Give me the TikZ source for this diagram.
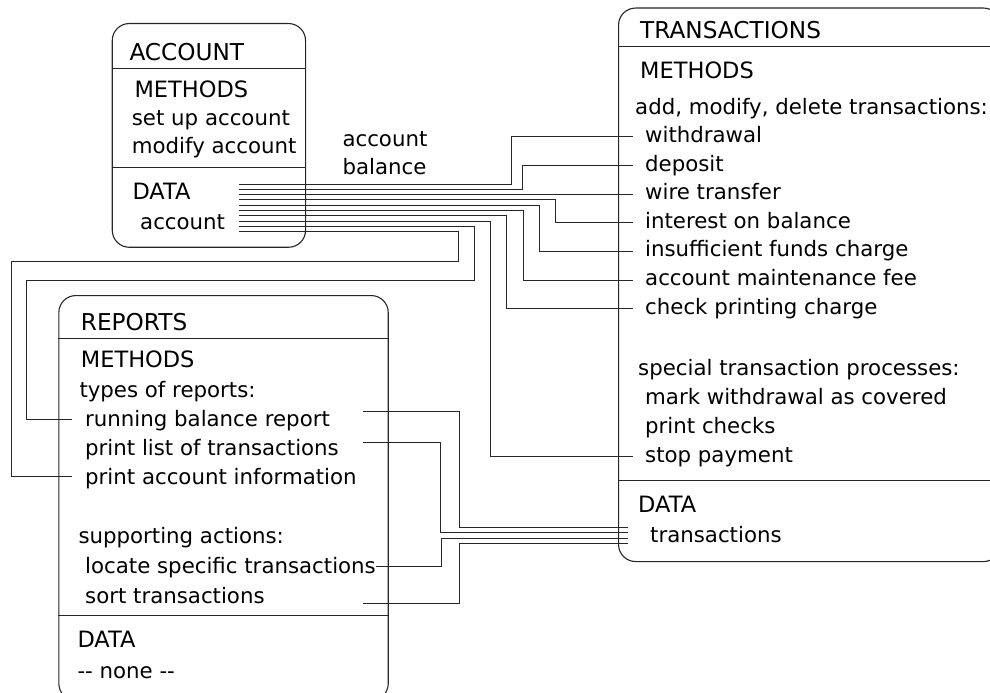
\documentclass[tikz,border=0pt]{standalone}
\usepackage{fontspec}
\setmainfont{DejaVu Sans}
\begin{document}
\begin{tikzpicture}[x=1pt,y=-1pt,
  classbox/.style={draw=black!85, line width=1.1pt, rounded corners=17pt,
    anchor=north west, inner sep=0pt},
  rule/.style={draw=black!85, line width=1pt},
  wire/.style={draw=black!85, line width=0.9pt},
  title/.style={anchor=base west, inner sep=0pt, font=\fontsize{23.2}{27}\selectfont},
  part/.style={anchor=base west, inner sep=0pt, font=\fontsize{22.5}{26}\selectfont},
  item/.style={anchor=base west, inner sep=0pt, font=\fontsize{21.3}{25}\selectfont}]
\useasboundingbox (0,0) rectangle (990,693);
\clip (0,0) rectangle (990,693);

% ---------- class boxes ----------
\node[classbox, minimum width=193.3pt, minimum height=223.7pt] (acct) at (111.7,23) {};
\node[classbox, minimum width=382pt, minimum height=553.5pt] (trans) at (618,7.5) {};
\node[classbox, minimum width=329.4pt, minimum height=405pt] (rep) at (58.3,295) {};

% compartment rules
\draw[rule] (111.7,68.3) -- (305,68.3);
\draw[rule] (111.7,167.3) -- (305,167.3);
\draw[rule] (618,46.7) -- (1000,46.7);
\draw[rule] (618,480) -- (1000,480);
\draw[rule] (58.3,338) -- (387.7,338);
\draw[rule] (58.3,615) -- (387.7,615);

% ---------- ACCOUNT ----------
\node[title] (accT)  at (129.3,60.7) {ACCOUNT};
\node[part]  (accM)  at (134.3,97.7) {METHODS};
\node[item]  (accM1) at (131.7,125) {set up account};
\node[item]  (accM2) at (131.7,153) {modify account};
\node[part]  (accD)  at (132.3,199.3) {DATA};
\node[item]  (accD1) at (140,229.8) {account};

\node[item] (lab1) at (342.3,146) {account};
\node[item] (lab2) at (342.3,174.5) {balance};

% ---------- TRANSACTIONS ----------
\node[title] (trT)  at (640,38.3) {TRANSACTIONS};
\node[part]  (trM)  at (640,78) {METHODS};
\node[item]  (trG1) at (635,114.5) {add, modify, delete transactions:};
\node[item]  (trWd) at (645,142.3) {withdrawal};
\node[item]  (trDp) at (645,171) {deposit};
\node[item]  (trWt) at (645,199.6) {wire transfer};
\node[item]  (trIb) at (645,228.2) {interest on balance};
\node[item]  (trIf) at (645,256.8) {insufficient funds charge};
\node[item]  (trMf) at (645,285.4) {account maintenance fee};
\node[item]  (trCp) at (645,314) {check printing charge};
\node[item]  (trG2) at (638,375.5) {special transaction processes:};
\node[item]  (trMw) at (645,404.2) {mark withdrawal as covered};
\node[item]  (trPc) at (645,433) {print checks};
\node[item]  (trSp) at (645,462) {stop payment};
\node[part]  (trD)  at (638,512) {DATA};
\node[item]  (trD1) at (650,542.3) {transactions};

% ---------- REPORTS ----------
\node[title] (rpT)  at (80.7,330) {REPORTS};
\node[part]  (rpM)  at (80.7,367.5) {METHODS};
\node[item]  (rpG1) at (79.3,397) {types of reports:};
\node[item]  (rpRb) at (85,426) {running balance report};
\node[item]  (rpPl) at (85,455.3) {print list of transactions};
\node[item]  (rpPa) at (85,484) {print account information};
\node[item]  (rpG2) at (78.3,543.8) {supporting actions:};
\node[item]  (rpLs) at (85,573.3) {locate specific transactions};
\node[item]  (rpSt) at (85,603) {sort transactions};
\node[part]  (rpD)  at (77.3,647) {DATA};
\node[item]  (rpD1) at (77.3,678.5) {-{}- none -{}-};

% ---------- connection ports ----------
% account data bundle
\coordinate (a0) at (239.3,184);
\coordinate (a1) at (239.3,189.3);
\coordinate (a2) at (239.3,194.6);
\coordinate (a3) at (239.3,199.9);
\coordinate (a4) at (239.3,205.2);
\coordinate (a5) at (239.3,210.5);
\coordinate (a6) at (239.3,215.8);
\coordinate (a7) at (239.3,221.1);
\coordinate (a8) at (239.3,226.4);
\coordinate (a9) at (239.3,231.7);
% transaction methods
\coordinate (pWd) at (633,136.7);
\coordinate (pDp) at (633,165.8);
\coordinate (pWt) at (633,194.6);
\coordinate (pIb) at (633,222.8);
\coordinate (pIf) at (633,251.4);
\coordinate (pMf) at (633,280.2);
\coordinate (pCp) at (633,308.8);
\coordinate (pSp) at (633,456.3);
% transaction data bundle
\coordinate (d1) at (628,527);
\coordinate (d2) at (628,532.7);
\coordinate (d3) at (628,538.3);
\coordinate (d4) at (628,543.3);
% report methods, left side
\coordinate (lRb) at (71.7,419.3);
\coordinate (lPa) at (71.7,476.5);
% report methods, right side
\coordinate (rRb) at (363.3,411.7);
\coordinate (rPl) at (363.3,442.7);
\coordinate (rLs) at (376,566);
\coordinate (rSt) at (363.3,603.3);

% ---------- connectors: account data ----------
\draw[wire] (a0) -| (511.7,136.7) -- (pWd);
\draw[wire] (a1) -| (522.3,165.8) -- (pDp);
\draw[wire] (a2) -- (pWt);
\draw[wire] (a3) -| (555,222.8) -- (pIb);
\draw[wire] (a4) -| (539,251.4) -- (pIf);
\draw[wire] (a5) -| (523,280.2) -- (pMf);
\draw[wire] (a6) -| (506.7,308.8) -- (pCp);
\draw[wire] (a7) -| (490.5,456.3) -- (pSp);
\draw[wire] (a8) -| (474.3,280.7) -| (26.7,419.3) -- (lRb);
\draw[wire] (a9) -| (458.3,261.7) -| (11,476.5) -- (lPa);

% ---------- connectors: transaction data ----------
\draw[wire] (rRb) -| (459,527) -- (d1);
\draw[wire] (rPl) -| (440,532.7) -- (d2);
\draw[wire] (rLs) -| (441.7,538.3) -- (d3);
\draw[wire] (rSt) -| (459,543.3) -- (d4);
\end{tikzpicture}
\end{document}
